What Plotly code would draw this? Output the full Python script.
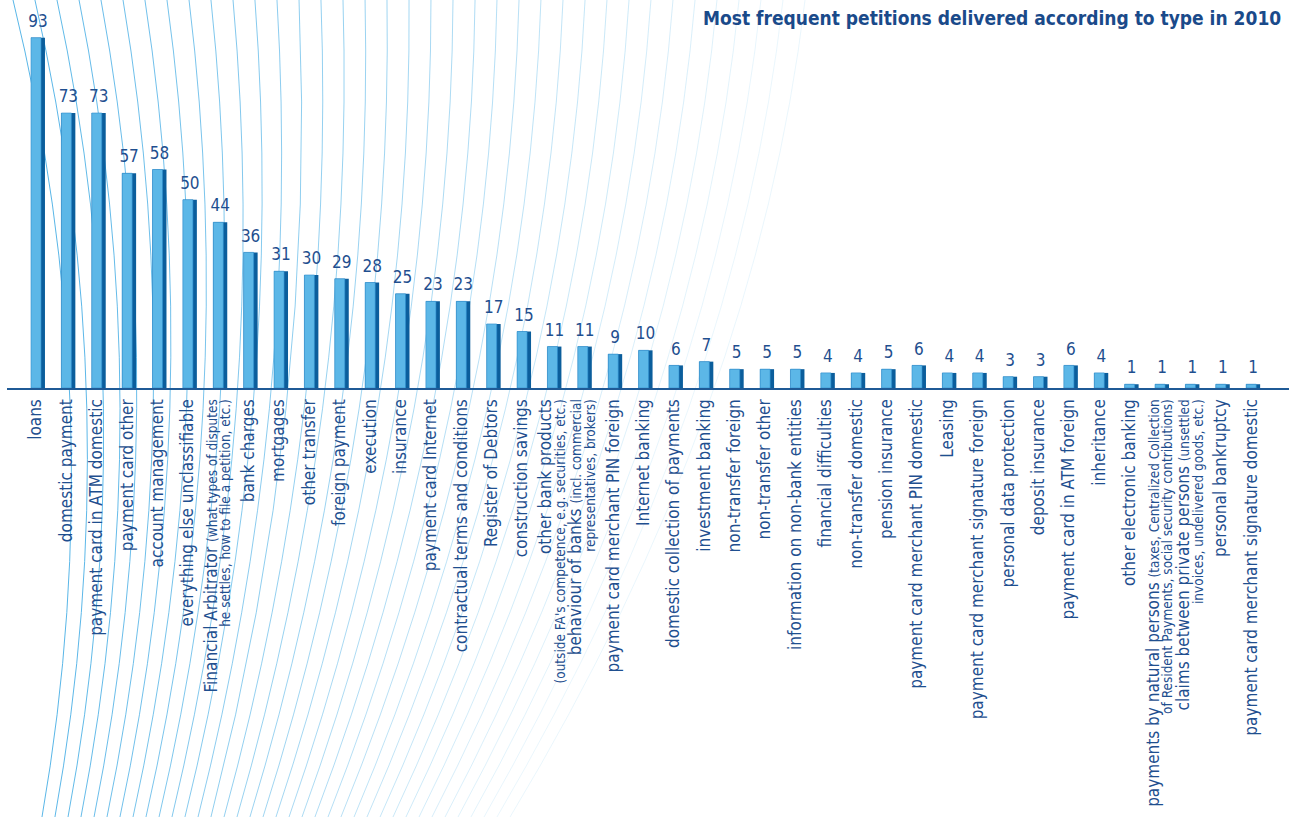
import plotly.graph_objects as go

def big(t):
    return '<span style="font-size:17px">' + t + '</span>'

def small(t):
    return '<span style="font-size:13.5px">' + t + '</span>'

categories = [
    big("loans"), big("domestic payment"), big("payment card in ATM domestic"), big("payment card other"),
    big("account management"), big("everything else unclassifiable"),
    big("Financial Arbitrator ") + small("(what types of disputes") + "<br>" + small("he settles, how to file a petition, etc.)"),
    big("bank charges"), big("mortgages"), big("other transfer"), big("foreign payment"), big("execution"),
    big("insurance"), big("payment card Internet"), big("contractual terms and conditions"),
    big("Register of Debtors"), big("construction savings"),
    big("other bank products") + "<br>" + small("(outside FA's competence, e.g. securities, etc.)"),
    big("behaviour of banks ") + small("(incl. commercial") + "<br>" + small("representatives, brokers)"),
    big("payment card merchant PIN foreign"), big("Internet banking"), big("domestic collection of payments"),
    big("investment banking"), big("non-transfer foreign"), big("non-transfer other"),
    big("information on non-bank entities"), big("financial difficulties"), big("non-transfer domestic"),
    big("pension insurance"), big("payment card merchant PIN domestic"), big("Leasing"),
    big("payment card merchant signature foreign"), big("personal data protection"), big("deposit insurance"),
    big("payment card in ATM foreign"), big("inheritance"), big("other electronic banking"),
    big("payments by natural persons ") + small("(taxes, Centralized Collection") + "<br>" + small("of Resident Payments, social security contributions)"),
    big("claims between private persons ") + small("(unsettled") + "<br>" + small("invoices, undelivered goods, etc.)"),
    big("personal bankruptcy"), big("payment card merchant signature domestic"),
]

values = [93, 73, 73, 57, 58, 50, 44, 36, 31, 30, 29, 28, 25, 23, 23, 17, 15, 11, 11, 9, 10,
          6, 7, 5, 5, 5, 4, 4, 5, 6, 4, 4, 3, 3, 6, 4, 1, 1, 1, 1, 1]

title_text = "Most frequent petitions delivered according to type in 2010"

positions = list(range(len(values)))

FONT = "DejaVu Sans Condensed, Liberation Sans Narrow, Arial Narrow, sans-serif"
TEXT_COLOR = "#1f4f8f"

W, H = 1289, 817
ML, MR, MT = 7, 0, 0
PLOT_BOTTOM = 388
MB = H - PLOT_BOTTOM

fig = go.Figure()

# dark side (full width of the 3D bar)
fig.add_trace(go.Bar(
    x=positions, y=values, width=0.46, offset=-0.23,
    marker=dict(color="#0b5e9c", line=dict(width=0)),
    hoverinfo="skip",
))
# light front face
fig.add_trace(go.Bar(
    x=positions, y=values, width=0.33, offset=-0.23,
    marker=dict(color="#5cb7e7", line=dict(width=0.6, color="#2f8fcf")),
    hoverinfo="skip",
))
# value labels
fig.add_trace(go.Scatter(
    x=positions, y=values, mode="markers+text",
    marker=dict(size=9, color="rgba(0,0,0,0)"),
    text=[str(v) for v in values], textposition="top center",
    textfont=dict(family=FONT, size=17, color=TEXT_COLOR),
    cliponaxis=False, hoverinfo="skip",
))

# decorative background arcs (pixel geometry converted to paper coordinates)
def px2x(px):
    return (px - ML) / (W - ML - MR)

def py2y(py):
    return 1 - (py - MT) / (PLOT_BOTTOM - MT)

shapes = []
n_arcs = 37
for i in range(n_arcs):
    xt = 13 + 22 * i
    xb = 42 + 13 * i
    d = 100 - 6.3 * i if i <= 13 else 18 - 2.9 * (i - 13)
    cx = xt + d
    alpha = max(0.12, 0.95 - 0.024 * i)
    path = "M {:.4f},{:.4f} Q {:.4f},{:.4f} {:.4f},{:.4f}".format(
        px2x(xt), py2y(0), px2x(cx), py2y(408), px2x(xb), py2y(H))
    shapes.append(dict(type="path", xref="paper", yref="paper", path=path,
                       line=dict(color="rgba(80,178,230,{:.2f})".format(alpha), width=1),
                       layer="below"))

fig.update_layout(
    width=W, height=H,
    margin=dict(l=ML, r=MR, t=MT, b=MB, pad=0),
    paper_bgcolor="white", plot_bgcolor="rgba(0,0,0,0)",
    barmode="overlay", showlegend=False,
    shapes=shapes,
    font=dict(family=FONT, color=TEXT_COLOR),
    xaxis=dict(
        range=[-1.02, 41.18], tickmode="array", tickvals=positions, ticktext=categories,
        tickangle=-90, tickfont=dict(family=FONT, size=10.5, color=TEXT_COLOR),
        showline=True, linecolor="#1f5a96", linewidth=2, showgrid=False,
        zeroline=False, ticks="", ticklabelstandoff=5,
    ),
    yaxis=dict(range=[0, 103], visible=False, showgrid=False, zeroline=False),
    annotations=[dict(
        text="<b>" + title_text + "</b>", xref="paper", yref="paper",
        x=1, y=py2y(18), xanchor="right", yanchor="middle", xshift=-6, showarrow=False,
        font=dict(family=FONT, size=19, color="#1a4a8a"),
    )],
)

fig.write_html("out.html")
